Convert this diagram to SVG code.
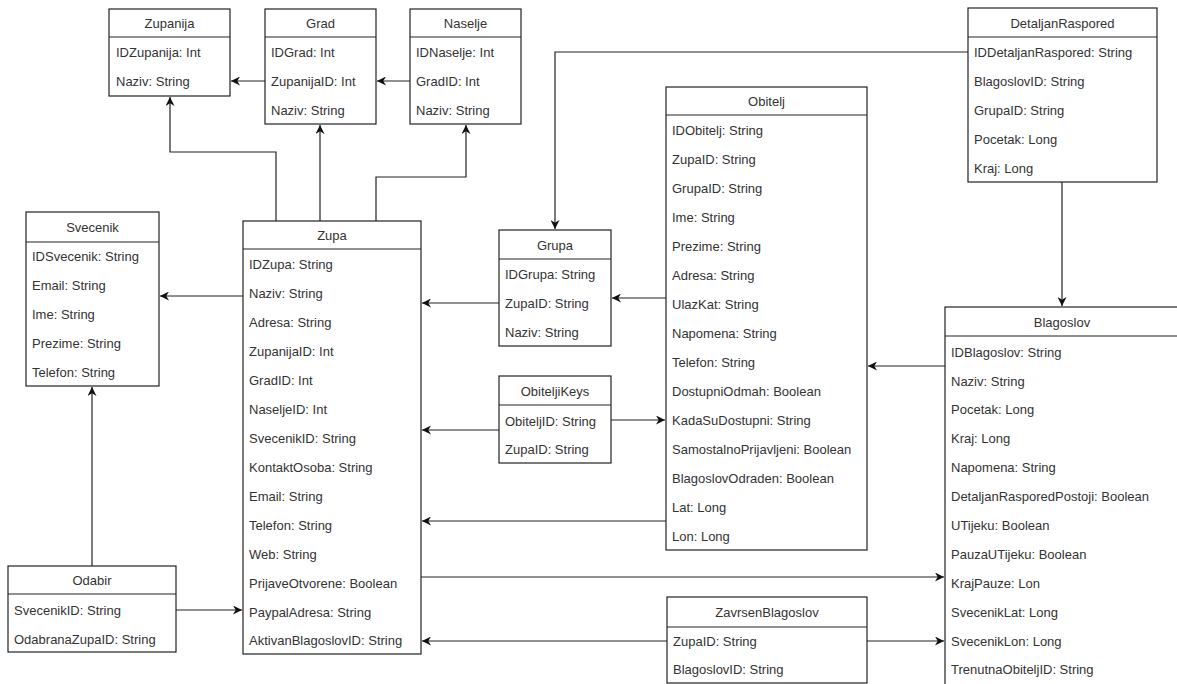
<svg xmlns="http://www.w3.org/2000/svg" width="1177" height="684" viewBox="0 0 1177 684">
<style>
.box{fill:#fff;stroke:#222;stroke-width:1.2}
.sep{stroke:#222;stroke-width:1.2}
.h{font-family:"Liberation Sans",Arial,sans-serif;font-size:13px;fill:#333;text-anchor:middle;dominant-baseline:central}
.r{font-family:"Liberation Sans",Arial,sans-serif;font-size:13px;fill:#333;dominant-baseline:central}
.c{fill:none;stroke:#222;stroke-width:1.2;marker-end:url(#arr)}
</style>
<defs>
<marker id="arr" viewBox="0 0 10 10" refX="10" refY="5" markerWidth="9" markerHeight="9" markerUnits="userSpaceOnUse" orient="auto">
<path d="M0,0 L10,5 L0,10 L3,5 z" fill="#111"/>
</marker>
</defs>
<rect width="1177" height="684" fill="#fff"/>

<g id="connectors">
<path class="c" d="M265,81 H231"/>
<path class="c" d="M410,81 H377"/>
<path class="c" d="M276,221 V152 H170 V97"/>
<path class="c" d="M320,221 V125"/>
<path class="c" d="M376,221 V177 H466 V125"/>
<path class="c" d="M243,296 H160"/>
<path class="c" d="M92,566 V387"/>
<path class="c" d="M176,610 H242"/>
<path class="c" d="M499,303 H422"/>
<path class="c" d="M666,298 H612"/>
<path class="c" d="M968,52 H555 V229"/>
<path class="c" d="M1062,182 V306"/>
<path class="c" d="M945,366 H868"/>
<path class="c" d="M499,430 H422"/>
<path class="c" d="M611,420 H665"/>
<path class="c" d="M666,521 H422"/>
<path class="c" d="M421,577 H944"/>
<path class="c" d="M667,641 H422"/>
<path class="c" d="M867,641 H944"/>
</g>

<g id="Zupanija">
<rect class="box" x="109" y="9" width="121" height="87"/>
<line class="sep" x1="109" y1="37" x2="230" y2="37"/>
<text class="h" x="169.5" y="23">Zupanija</text>
<text class="r" x="116" y="52">IDZupanija: Int</text>
<text class="r" x="116" y="81">Naziv: String</text>
</g>

<g id="Grad">
<rect class="box" x="265" y="9" width="111" height="115"/>
<line class="sep" x1="265" y1="37" x2="376" y2="37"/>
<text class="h" x="320.5" y="23">Grad</text>
<text class="r" x="271" y="52">IDGrad: Int</text>
<text class="r" x="271" y="81">ZupanijaID: Int</text>
<text class="r" x="271" y="110">Naziv: String</text>
</g>

<g id="Naselje">
<rect class="box" x="410" y="9" width="111" height="115"/>
<line class="sep" x1="410" y1="37" x2="521" y2="37"/>
<text class="h" x="465.5" y="23">Naselje</text>
<text class="r" x="416" y="52">IDNaselje: Int</text>
<text class="r" x="416" y="81">GradID: Int</text>
<text class="r" x="416" y="110">Naziv: String</text>
</g>

<g id="Svecenik">
<rect class="box" x="26" y="212" width="133" height="174"/>
<line class="sep" x1="26" y1="242" x2="159" y2="242"/>
<text class="h" x="92.5" y="227">Svecenik</text>
<text class="r" x="32" y="256">IDSvecenik: String</text>
<text class="r" x="32" y="285">Email: String</text>
<text class="r" x="32" y="314">Ime: String</text>
<text class="r" x="32" y="343">Prezime: String</text>
<text class="r" x="32" y="372">Telefon: String</text>
</g>

<g id="Zupa">
<rect class="box" x="243" y="221" width="178" height="433"/>
<line class="sep" x1="243" y1="249" x2="421" y2="249"/>
<text class="h" x="332" y="235">Zupa</text>
<text class="r" x="249" y="264">IDZupa: String</text>
<text class="r" x="249" y="293">Naziv: String</text>
<text class="r" x="249" y="322">Adresa: String</text>
<text class="r" x="249" y="351">ZupanijaID: Int</text>
<text class="r" x="249" y="380">GradID: Int</text>
<text class="r" x="249" y="409">NaseljeID: Int</text>
<text class="r" x="249" y="438">SvecenikID: String</text>
<text class="r" x="249" y="467">KontaktOsoba: String</text>
<text class="r" x="249" y="496">Email: String</text>
<text class="r" x="249" y="525">Telefon: String</text>
<text class="r" x="249" y="554">Web: String</text>
<text class="r" x="249" y="583">PrijaveOtvorene: Boolean</text>
<text class="r" x="249" y="612">PaypalAdresa: String</text>
<text class="r" x="249" y="640">AktivanBlagoslovID: String</text>
</g>

<g id="Odabir">
<rect class="box" x="8" y="566" width="168" height="86"/>
<line class="sep" x1="8" y1="594" x2="176" y2="594"/>
<text class="h" x="92" y="580">Odabir</text>
<text class="r" x="14" y="610">SvecenikID: String</text>
<text class="r" x="14" y="639">OdabranaZupaID: String</text>
</g>

<g id="Grupa">
<rect class="box" x="499" y="230" width="112" height="116"/>
<line class="sep" x1="499" y1="259" x2="611" y2="259"/>
<text class="h" x="555" y="245">Grupa</text>
<text class="r" x="505" y="274">IDGrupa: String</text>
<text class="r" x="505" y="303">ZupaID: String</text>
<text class="r" x="505" y="332">Naziv: String</text>
</g>

<g id="ObiteljiKeys">
<rect class="box" x="499" y="376" width="112" height="87"/>
<line class="sep" x1="499" y1="405" x2="611" y2="405"/>
<text class="h" x="555" y="391">ObiteljiKeys</text>
<text class="r" x="505" y="421">ObiteljID: String</text>
<text class="r" x="505" y="449">ZupaID: String</text>
</g>

<g id="Obitelj">
<rect class="box" x="666" y="87" width="201" height="463"/>
<line class="sep" x1="666" y1="115" x2="867" y2="115"/>
<text class="h" x="766.5" y="101">Obitelj</text>
<text class="r" x="672" y="130">IDObitelj: String</text>
<text class="r" x="672" y="159">ZupaID: String</text>
<text class="r" x="672" y="188">GrupaID: String</text>
<text class="r" x="672" y="217">Ime: String</text>
<text class="r" x="672" y="246">Prezime: String</text>
<text class="r" x="672" y="275">Adresa: String</text>
<text class="r" x="672" y="304">UlazKat: String</text>
<text class="r" x="672" y="333">Napomena: String</text>
<text class="r" x="672" y="362">Telefon: String</text>
<text class="r" x="672" y="391">DostupniOdmah: Boolean</text>
<text class="r" x="672" y="420">KadaSuDostupni: String</text>
<text class="r" x="672" y="449">SamostalnoPrijavljeni: Boolean</text>
<text class="r" x="672" y="478">BlagoslovOdraden: Boolean</text>
<text class="r" x="672" y="507">Lat: Long</text>
<text class="r" x="672" y="536">Lon: Long</text>
</g>

<g id="DetaljanRaspored">
<rect class="box" x="968" y="8" width="189" height="174"/>
<line class="sep" x1="968" y1="37" x2="1157" y2="37"/>
<text class="h" x="1062.5" y="23">DetaljanRaspored</text>
<text class="r" x="974" y="52">IDDetaljanRaspored: String</text>
<text class="r" x="974" y="81">BlagoslovID: String</text>
<text class="r" x="974" y="110">GrupaID: String</text>
<text class="r" x="974" y="139">Pocetak: Long</text>
<text class="r" x="974" y="168">Kraj: Long</text>
</g>

<g id="Blagoslov">
<rect class="box" x="945" y="307" width="236" height="390"/>
<line class="sep" x1="945" y1="336" x2="1181" y2="336"/>
<text class="h" x="1062" y="322">Blagoslov</text>
<text class="r" x="951" y="352">IDBlagoslov: String</text>
<text class="r" x="951" y="381">Naziv: String</text>
<text class="r" x="951" y="409">Pocetak: Long</text>
<text class="r" x="951" y="438">Kraj: Long</text>
<text class="r" x="951" y="467">Napomena: String</text>
<text class="r" x="951" y="496">DetaljanRasporedPostoji: Boolean</text>
<text class="r" x="951" y="525">UTijeku: Boolean</text>
<text class="r" x="951" y="554">PauzaUTijeku: Boolean</text>
<text class="r" x="951" y="583">KrajPauze: Lon</text>
<text class="r" x="951" y="612">SvecenikLat: Long</text>
<text class="r" x="951" y="641">SvecenikLon: Long</text>
<text class="r" x="951" y="669">TrenutnaObiteljID: String</text>
</g>

<g id="ZavrsenBlagoslov">
<rect class="box" x="667" y="597" width="200" height="86"/>
<line class="sep" x1="667" y1="627" x2="867" y2="627"/>
<text class="h" x="767" y="612">ZavrsenBlagoslov</text>
<text class="r" x="673" y="641">ZupaID: String</text>
<text class="r" x="673" y="669">BlagoslovID: String</text>
</g>
</svg>
